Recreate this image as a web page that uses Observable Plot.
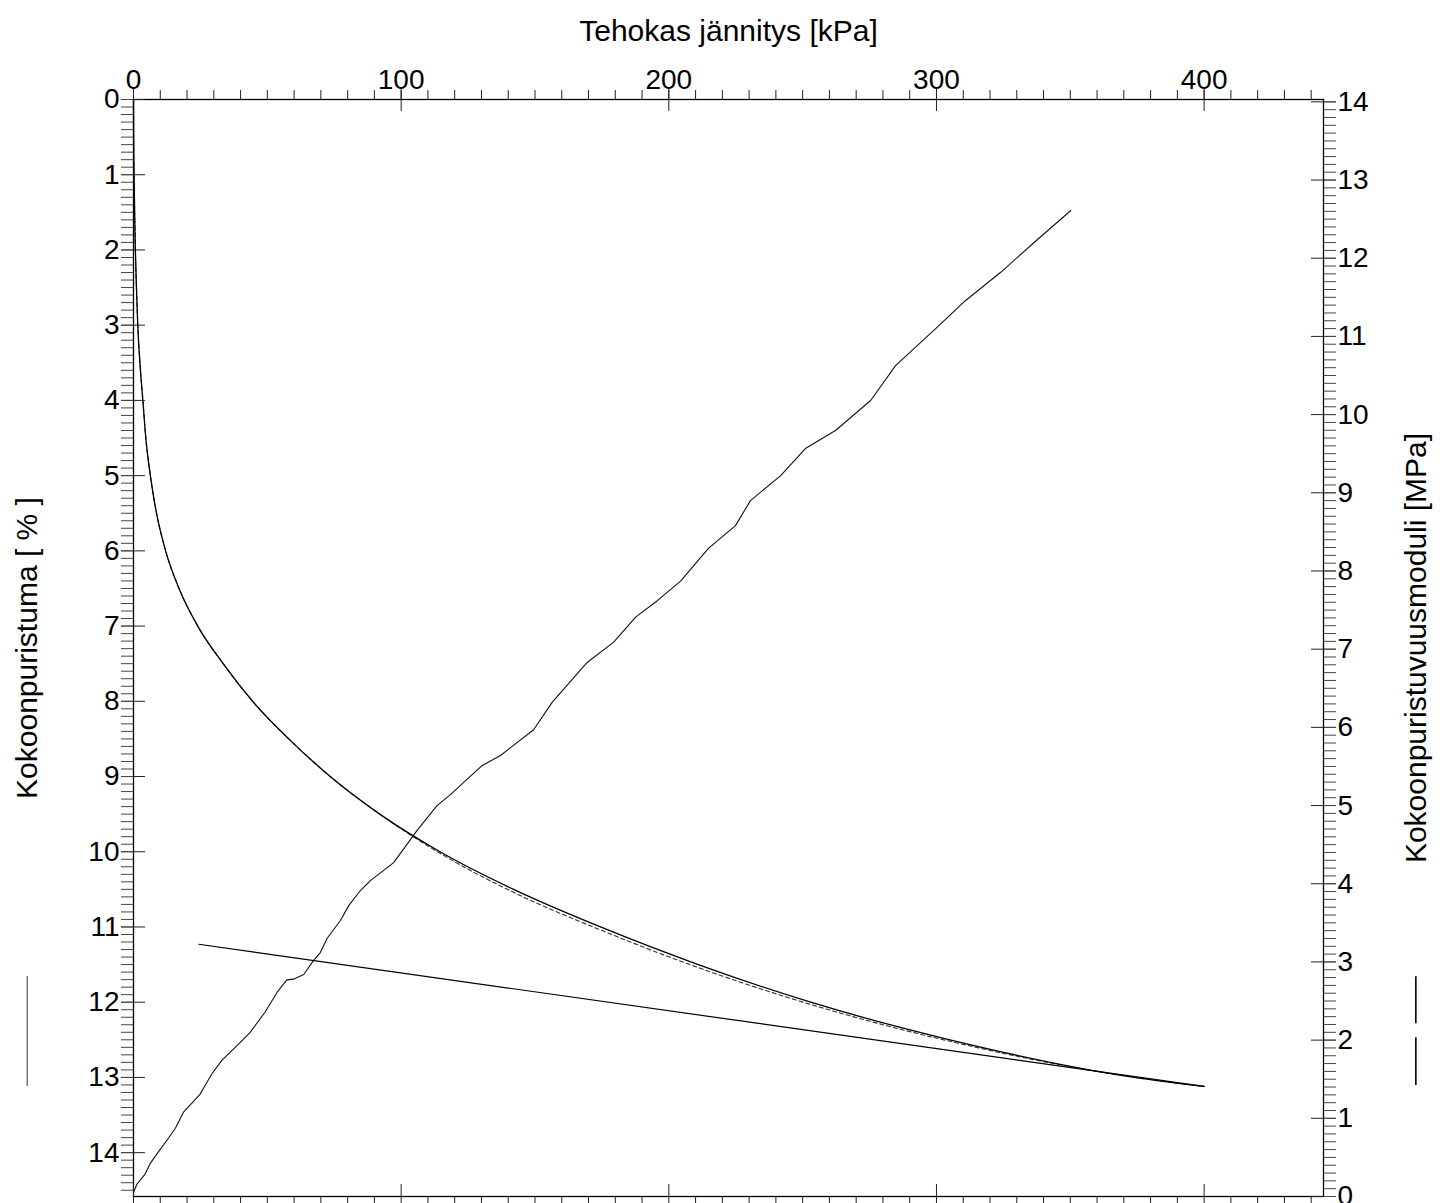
<!DOCTYPE html>
<html>
<head>
<meta charset="utf-8">
<script src="https://cdn.jsdelivr.net/npm/d3@7"></script>
<script src="https://cdn.jsdelivr.net/npm/@observablehq/plot@0.6"></script>
<style>
  html, body { margin: 0; padding: 0; background: #fff; }
  #wrap { position: relative; width: 1443px; height: 1203px; overflow: hidden; }
  #wrap svg { position: absolute; left: 0; top: 0; }
</style>
</head>
<body>
<div id="wrap"></div>
<script>
// ---- data ----
const stress = [0, 0.05, 0.2, 0.7, 1.1, 1.6, 2.4, 3.5, 4.6, 6.3, 8.6, 12.0, 17, 24, 33.5, 44.5, 58, 73.5, 92, 114.5, 142, 174.5, 211, 253, 305, 374, 400];
const strainMeasured = [0, 0.5, 1, 2, 2.5, 3, 3.5, 4, 4.5, 5, 5.5, 6, 6.5, 7, 7.5, 8, 8.5, 9, 9.5, 10, 10.5, 11, 11.5, 12, 12.5, 13, 13.12];
const strainFitted = [0, 0.5, 1, 2, 2.5, 3, 3.5, 4, 4.5, 5, 5.5, 6, 6.5, 7, 7.5, 8, 8.5, 9, 9.5, 10.02, 10.54, 11.04, 11.54, 12.03, 12.52, 13.0, 13.12];

const tangentStress = [24.4, 400];
const tangentStrain = [11.23, 13.12];

const modStress = [0, 1.3, 4.4, 6.2, 9.3, 12.5, 15.6, 18.7, 24.9, 29.3, 33.0, 39.9, 43.6, 49.2, 53.6, 57.3, 59.8, 63.6, 67.3, 69.8, 72.3, 77.3, 80.4, 84.7, 88.5, 97.2, 105.9, 113.4, 118.4, 130.2, 137.1, 149.5, 156.4, 169.5, 179.4, 187.6, 195.7, 204.4, 214.8, 224.9, 230.5, 241.8, 251.2, 262.4, 275.4, 284.8, 299.7, 310.9, 324.0, 337.1, 350.2];
const modulus = [0.05, 0.16, 0.29, 0.42, 0.57, 0.72, 0.87, 1.08, 1.31, 1.57, 1.74, 1.97, 2.10, 2.36, 2.61, 2.77, 2.78, 2.84, 3.02, 3.12, 3.30, 3.53, 3.72, 3.91, 4.04, 4.27, 4.68, 5.00, 5.14, 5.51, 5.64, 5.97, 6.32, 6.83, 7.09, 7.41, 7.62, 7.87, 8.29, 8.58, 8.90, 9.22, 9.57, 9.80, 10.18, 10.63, 11.10, 11.46, 11.82, 12.22, 12.61];

const xMajorTicks = [0, 100, 200, 300, 400];
const xMinorTicks = d3.range(0, 45).map(i => i * 10);
const leftMajorTicks = d3.range(0, 15);
const leftMinorTicks = d3.range(0, 146).map(i => i / 10);
const rightMajorTicks = d3.range(0, 15);
const rightMinorTicks = d3.range(0, 141).map(i => i / 10);

const xTitle = "Tehokas jännitys [kPa]";
const leftTitle = "Kokoonpuristuma [ % ]";
const rightTitle = "Kokoonpuristuvuusmoduli [MPa]";

// legend key samples (line-style keys beside the axis titles)
const leftKeyX = [-39.7];
const leftKeyY = [[11.66, 13.12]];
const rightKeyX = [479.1, 479.1];
const rightKeyY = [[2.81, 2.21], [2.03, 1.42]];

// ---- layout ----
const W = 1443, H = 1203;
const mL = 133, mR = 120, mT = 99, mB = 7;
const pw = W - mL - mR, ph = H - mT - mB;
const xDomain = [0, 444.6];
const font = "'Liberation Sans', Arial, Helvetica, sans-serif";
const tickFont = 28, titleFont = 30;

const comp = stress.map((s, i) => ({s, e: strainMeasured[i]}));
const fit = stress.map((s, i) => ({s, e: strainFitted[i]}));
const tang = tangentStress.map((s, i) => ({s, e: tangentStrain[i]}));
const mod = modStress.map((s, i) => ({s, m: modulus[i]}));

const common = {
  width: W, height: H,
  marginLeft: mL, marginRight: mR, marginTop: mT, marginBottom: mB,
  style: {fontFamily: font, fontSize: tickFont + "px", color: "#000", background: "transparent", overflow: "visible"}
};

const p1 = Plot.plot({
  ...common,
  x: {domain: xDomain},
  y: {domain: [14.583, 0]},
  marks: [
    Plot.frame({stroke: "#000", strokeWidth: 1.3}),
    // top axis
    Plot.axisX(xMinorTicks, {anchor: "top", tickSize: 10, tickFormat: () => "", label: null, stroke: "#222"}),
    Plot.axisX(xMajorTicks, {anchor: "top", tickSize: 11, tickPadding: 0, fontSize: tickFont, tickFormat: d3.format("d"), label: null, stroke: "#222"}),
    Plot.tickX(xMajorTicks, {x: d => d, insetBottom: ph - 12, stroke: "#222"}),
    // bottom axis
    Plot.axisX(xMinorTicks, {anchor: "bottom", tickSize: 10, tickFormat: () => "", label: null, stroke: "#222"}),
    Plot.tickX(xMajorTicks, {x: d => d, insetTop: ph - 12, stroke: "#222"}),
    // left axis
    Plot.axisY(leftMinorTicks, {anchor: "left", tickSize: 12, tickFormat: () => "", label: null, stroke: "#444"}),
    Plot.axisY(leftMajorTicks, {anchor: "left", tickSize: 12, tickPadding: 2, fontSize: tickFont, tickFormat: d3.format("d"), label: null, stroke: "#444"}),
    Plot.tickY(leftMajorTicks, {y: d => d, insetRight: pw - 12, stroke: "#222"}),
    // titles
    Plot.text([xTitle], {frameAnchor: "top", dy: -68, fontSize: titleFont, textAnchor: "middle", lineAnchor: "middle"}),
    Plot.text([leftTitle], {frameAnchor: "left", dx: -106, rotate: -90, fontSize: titleFont, textAnchor: "middle", lineAnchor: "middle"}),
    // key sample
    Plot.ruleX(leftKeyX, {x: d => d, y1: (d, i) => leftKeyY[i][0], y2: (d, i) => leftKeyY[i][1], stroke: "#555", strokeWidth: 1.2}),
    // data
    Plot.line(tang, {x: "s", y: "e", stroke: "#000", strokeWidth: 1.2}),
    Plot.line(fit, {x: "s", y: "e", stroke: "#333", strokeWidth: 1.1, strokeDasharray: "4,3", curve: "monotone-x"}),
    Plot.line(comp, {x: "s", y: "e", stroke: "#000", strokeWidth: 1.3, curve: "monotone-x"})
  ]
});

const p2 = Plot.plot({
  ...common,
  x: {domain: xDomain, axis: null},
  y: {domain: [0, 14.03]},
  marks: [
    Plot.axisY(rightMinorTicks, {anchor: "right", tickSize: 12, tickFormat: () => "", label: null, stroke: "#444"}),
    Plot.axisY(rightMajorTicks, {anchor: "right", tickSize: 12, tickPadding: 2, fontSize: tickFont, tickFormat: d3.format("d"), label: null, stroke: "#444"}),
    Plot.tickY(rightMajorTicks, {y: d => d, insetLeft: pw - 12, stroke: "#222"}),
    Plot.text([rightTitle], {frameAnchor: "right", dx: 93, rotate: -90, fontSize: titleFont, textAnchor: "middle", lineAnchor: "middle"}),
    Plot.ruleX(rightKeyX, {x: d => d, y1: (d, i) => rightKeyY[i][0], y2: (d, i) => rightKeyY[i][1], stroke: "#000", strokeWidth: 1.6}),
    Plot.line(mod, {x: "s", y: "m", stroke: "#111", strokeWidth: 1.1})
  ]
});

const wrap = document.getElementById("wrap");
wrap.appendChild(p1);
wrap.appendChild(p2);
</script>
</body>
</html>
